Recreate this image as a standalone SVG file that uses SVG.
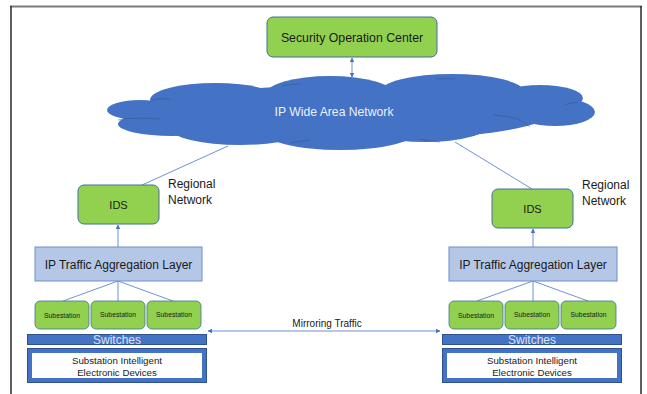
<svg xmlns="http://www.w3.org/2000/svg" width="647" height="394" viewBox="0 0 647 394">
<defs>
<marker id="ah" viewBox="0 0 10 10" refX="9" refY="5" markerWidth="4.5" markerHeight="4.5" orient="auto-start-reverse" markerUnits="userSpaceOnUse">
<path d="M0,0 L10,5 L0,10 z" fill="#4472C4"/>
</marker>
<style>
.t{font-family:"Liberation Sans",Arial,sans-serif;fill:#1a1a1a;text-anchor:middle}
.green{fill:#92D050;stroke:#41719C;stroke-width:1}
.agg{fill:#B4C7E7;stroke:#6F8FC9;stroke-width:1}
.sub{fill:#92D050;stroke:#41719C;stroke-width:0.8}
.sw{fill:#4472C4;stroke:#2F528F;stroke-width:1}
.cloud{fill:#4472C4}
.ln{stroke:#5B87D0;stroke-width:0.9;fill:none}
.reg{font-family:"Liberation Sans",Arial,sans-serif;font-size:12px;fill:#1a1a1a}
</style>
</defs>
<rect width="647" height="394" fill="#ffffff"/>
<g id="frame">
<line x1="10" y1="6.5" x2="642" y2="6.5" stroke="#7a7a7a" stroke-width="2"/>
<line x1="11" y1="6" x2="11" y2="394" stroke="#2a2a2a" stroke-width="1.5"/>
<line x1="641" y1="6" x2="641" y2="394" stroke="#2a2a2a" stroke-width="1.5"/>
</g>
<g id="connectors">
<line class="ln" x1="352" y1="58" x2="352" y2="77" marker-start="url(#ah)" marker-end="url(#ah)"/>
<line class="ln" x1="228" y1="146" x2="142" y2="185"/>
<line class="ln" x1="455" y1="142" x2="532" y2="189"/>
<line class="ln" x1="118" y1="247" x2="118" y2="225" marker-end="url(#ah)"/>
<line class="ln" x1="533" y1="247" x2="533" y2="229" marker-end="url(#ah)"/>
<line class="ln" x1="118" y1="281" x2="63" y2="301"/>
<line class="ln" x1="118" y1="281" x2="118" y2="301"/>
<line class="ln" x1="118" y1="281" x2="173" y2="301"/>
<line class="ln" x1="533" y1="281" x2="477" y2="301"/>
<line class="ln" x1="533" y1="281" x2="533" y2="301"/>
<line class="ln" x1="533" y1="281" x2="588" y2="301"/>
<line class="ln" x1="208" y1="331" x2="440" y2="331" marker-start="url(#ah)" marker-end="url(#ah)"/>
<text class="t" x="327" y="326.5" font-size="10">Mirroring Traffic</text>
</g>
<g id="soc">
<rect class="green" x="267" y="17" width="170" height="40" rx="6"/>
<text class="t" x="352" y="42.3" font-size="12.3">Security Operation Center</text>
</g>
<g id="wan">
<ellipse class="cloud" cx="350" cy="113" rx="200" ry="28"/>
<ellipse class="cloud" cx="140" cy="110" rx="33" ry="10"/>
<ellipse class="cloud" cx="172" cy="124" rx="54" ry="12"/>
<ellipse class="cloud" cx="215" cy="100" rx="65" ry="17"/>
<ellipse class="cloud" cx="330" cy="95" rx="65" ry="19"/>
<ellipse class="cloud" cx="452" cy="92" rx="72" ry="18"/>
<ellipse class="cloud" cx="540" cy="98" rx="43" ry="13"/>
<ellipse class="cloud" cx="555" cy="112" rx="40" ry="14"/>
<ellipse class="cloud" cx="490" cy="114" rx="65" ry="13"/>
<ellipse class="cloud" cx="425" cy="124" rx="65" ry="18"/>
<ellipse class="cloud" cx="340" cy="130" rx="78" ry="20"/>
<ellipse class="cloud" cx="240" cy="128" rx="70" ry="17"/>
<path d="M152,100 Q160,98 170,99 M118,120 Q130,117 160,119 M282,86 Q290,84 300,84 M436,79 Q445,78 455,79 M565,105 Q572,102 578,102 M493,115 Q520,116 530,127 M420,139 Q430,141 440,142 M290,143 Q300,141 310,140" fill="none" stroke="#2F528F" stroke-width="0.7" opacity="0.7"/>
<text x="334" y="116.3" font-family="Liberation Sans, Arial, sans-serif" font-size="12.2" fill="#EAF0FA" text-anchor="middle">IP Wide Area Network</text>
</g>
<g id="ids-left">
<rect class="green" x="78" y="185" width="81" height="39" rx="6"/>
<text class="t" x="118.5" y="209" font-size="11">IDS</text>
</g>
<text class="reg" x="168" y="187.5">Regional</text>
<text class="reg" x="168" y="203.5">Network</text>
<g id="ids-right">
<rect class="green" x="492" y="189" width="81" height="39" rx="6"/>
<text class="t" x="532.5" y="213" font-size="11">IDS</text>
</g>
<text class="reg" x="582" y="188.5">Regional</text>
<text class="reg" x="582" y="204.5">Network</text>
<g id="agg-left">
<rect class="agg" x="35" y="247" width="167" height="34"/>
<text class="t" x="118.5" y="268.5" font-size="12">IP Traffic Aggregation Layer</text>
</g>
<g id="agg-right">
<rect class="agg" x="449" y="247" width="168" height="34"/>
<text class="t" x="533" y="268.5" font-size="12">IP Traffic Aggregation Layer</text>
</g>
<g id="sub-left-1"><rect class="sub" x="35" y="301" width="54" height="28" rx="5"/><text class="t" x="62" y="317.5" font-size="6.8">Subestation</text></g>
<g id="sub-left-2"><rect class="sub" x="91" y="301" width="54" height="28" rx="5"/><text class="t" x="118" y="317" font-size="6.8">Subestation</text></g>
<g id="sub-left-3"><rect class="sub" x="147" y="301" width="54" height="28" rx="5"/><text class="t" x="174" y="317" font-size="6.8">Subestation</text></g>
<g id="sub-right-1"><rect class="sub" x="449" y="301" width="54" height="28" rx="5"/><text class="t" x="476" y="317.5" font-size="6.8">Subestation</text></g>
<g id="sub-right-2"><rect class="sub" x="505" y="301" width="54" height="28" rx="5"/><text class="t" x="532" y="317" font-size="6.8">Subestation</text></g>
<g id="sub-right-3"><rect class="sub" x="561" y="301" width="55" height="28" rx="5"/><text class="t" x="588.5" y="317" font-size="6.8">Subestation</text></g>
<g id="switches-left">
<rect class="sw" x="27.5" y="334.5" width="179" height="10"/>
<text x="117" y="344" font-family="Liberation Sans, Arial, sans-serif" font-size="12" fill="#DAE3F3" text-anchor="middle">Switches</text>
</g>
<g id="switches-right">
<rect class="sw" x="442.5" y="334.5" width="179" height="10"/>
<text x="532" y="344" font-family="Liberation Sans, Arial, sans-serif" font-size="12" fill="#DAE3F3" text-anchor="middle">Switches</text>
</g>
<g id="ied-left">
<rect class="sw" x="27.5" y="348.5" width="179" height="34"/>
<rect x="32" y="353" width="170" height="25" fill="#ffffff"/>
<text class="t" x="117" y="363.5" font-size="9.7">Substation Intelligent</text>
<text class="t" x="117" y="375.5" font-size="9.7">Electronic Devices</text>
</g>
<g id="ied-right">
<rect class="sw" x="442.5" y="348.5" width="179" height="34"/>
<rect x="447" y="353" width="170" height="25" fill="#ffffff"/>
<text class="t" x="532" y="363.5" font-size="9.7">Substation Intelligent</text>
<text class="t" x="532" y="375.5" font-size="9.7">Electronic Devices</text>
</g>
</svg>
